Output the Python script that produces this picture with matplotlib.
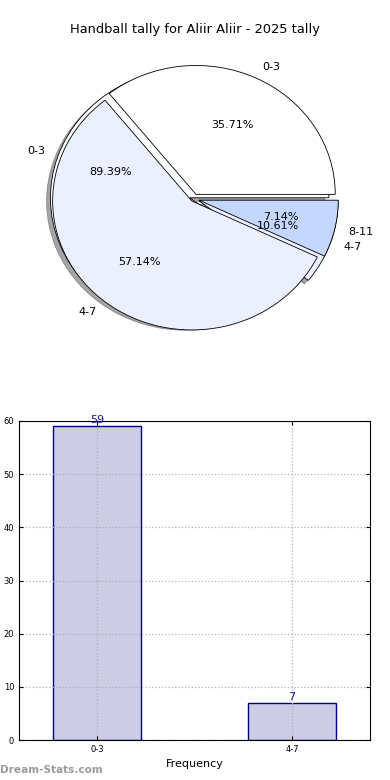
import matplotlib
matplotlib.use("Agg")
import matplotlib.pyplot as plt

title = "Handball tally for Aliir Aliir - 2025 tally"
# Pie A (counts per goal range)
pieA_labels = ["0-3", "4-7"]
pieA_values = [59, 7]
# Pie B
pieB_labels = ["0-3", "4-7", "8-11"]
pieB_values = [5, 8, 1]
# Bar chart
bar_labels = ["0-3", "4-7"]
bar_values = [59, 7]

colors = ["white", "#EAF0FF", "#C4D8FF"]

fig = plt.figure(figsize=(3.9, 7.8), dpi=100)

axp = fig.add_axes([14/390, 1-363/780, 362/390, 330/780])
axp.pie(pieA_values, labels=pieA_labels, autopct="%.2f%%", colors=colors[:2],
        explode=[0.03, 0.04], shadow=True, startangle=0,
        wedgeprops=dict(edgecolor="black", linewidth=0.6),
        textprops=dict(fontsize=8))
axp.pie(pieB_values, labels=pieB_labels, autopct="%.2f%%", colors=colors,
        explode=[0.04, 0.02, 0.04], startangle=0,
        wedgeprops=dict(edgecolor="black", linewidth=0.6),
        textprops=dict(fontsize=8))
axp.set_aspect("auto")
axp.set_xlim(-1.29, 1.31)
axp.set_ylim(-1.272, 1.288)
axp.axis("off")

fig.text(0.5, 1-30/780, title, ha="center", va="center", fontsize=9.4)

axb = fig.add_axes([19/390, 40/780, 351/390, 319/780])
x = list(range(len(bar_values)))
bars = axb.bar(x, bar_values, width=0.45, color="#CCCCE5", edgecolor="#000080", linewidth=1.0, zorder=0.5)
for xi, v in zip(x, bar_values):
    axb.text(xi, v + 0.2, str(v), ha="center", va="bottom", color="#1a1a9a", fontsize=8, zorder=4)
axb.set_xticks(x)
axb.set_xticklabels(bar_labels)
axb.set_xlim(-0.4, 1.4)
axb.set_ylim(0, 60)
axb.set_yticks(range(0, 61, 10))
axb.tick_params(labelsize=6, direction="in", top=True, right=True, length=3)
axb.set_axisbelow("line")
axb.grid(True, linestyle=":", color="#b0b0b0", linewidth=0.9)
axb.set_xlabel("Frequency", fontsize=8, labelpad=4)

fig.text(0.0, 1-770/780, "Dream-Stats.com", ha="left", va="center", fontsize=7.6,
         color="#9a9a9a", fontweight="semibold")

fig.savefig("out.png", dpi=100)
